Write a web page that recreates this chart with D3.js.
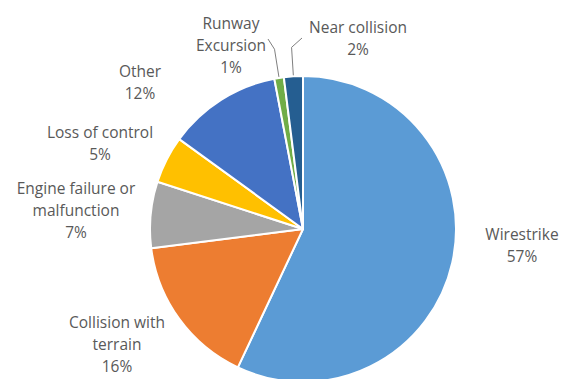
<!DOCTYPE html>
<html>
<head>
<meta charset="utf-8">
<script src="https://cdn.jsdelivr.net/npm/d3@7"></script>
<style>
  html, body { margin: 0; padding: 0; background: #fff; }
  svg { display: block; }
  text { font-family: "Open Sans", "Liberation Sans", sans-serif; font-size: 15.5px; fill: #595959; }
</style>
</head>
<body>
<svg id="chart" width="566" height="379"></svg>
<script>
// Data
const categories = ["Wirestrike", "Collision with terrain", "Engine failure or malfunction", "Loss of control", "Other", "Runway Excursion", "Near collision"];
const values = [57, 16, 7, 5, 12, 1, 2];
const colors = ["#5B9BD5", "#ED7D31", "#A5A5A5", "#FFC000", "#4472C4", "#70AD47", "#255E91"];
// Label text lines (as wrapped in the original)
const labelLines = [
  ["Wirestrike"],
  ["Collision with", "terrain"],
  ["Engine failure or", "malfunction"],
  ["Loss of control"],
  ["Other"],
  ["Runway", "Excursion"],
  ["Near collision"]
];
// Layout: label centre x and first baseline y
const labelPos = [[522, 240], [117, 328], [76, 194], [100, 138], [140, 77], [231, 29], [358, 33]];
const leaderEnd = [null, null, null, null, null, [268, 39], [302, 38]];

const W = 566, H = 379;
const cx = 303, cy = 229, R = 153;
const lineH = 22;

const svg = d3.select("#chart");
const data = categories.map((c, i) => ({ cat: c, value: values[i], color: colors[i], i }));

const pie = d3.pie().sort(null).value(d => d.value);
const arcs = pie(data);
const arc = d3.arc().innerRadius(0).outerRadius(R);

const g = svg.append("g").attr("transform", `translate(${cx},${cy})`);
g.selectAll("path.slice").data(arcs).join("path")
  .attr("class", "slice")
  .attr("d", arc)
  .attr("fill", d => d.data.color)
  .attr("stroke", "#fff")
  .attr("stroke-width", 2)
  .attr("stroke-linejoin", "round");

// Leader lines
arcs.forEach((a, i) => {
  if (!leaderEnd[i]) return;
  const mid = (a.startAngle + a.endAngle) / 2;
  const p0 = [cx + Math.sin(mid) * (R + 1), cy - Math.cos(mid) * (R + 1)];
  const p1 = [cx + Math.sin(mid) * (R + 29), cy - Math.cos(mid) * (R + 29)];
  const p2 = leaderEnd[i];
  svg.append("path")
    .attr("d", d3.line()([p0, p1, p2]))
    .attr("fill", "none")
    .attr("stroke", "#7f7f7f")
    .attr("stroke-width", 1);
});

// Labels
arcs.forEach((a, i) => {
  const [lx, ly] = labelPos[i];
  const lines = labelLines[i].concat([Math.round(values[i]) + "%"]);
  const t = svg.append("text").attr("text-anchor", "middle");
  lines.forEach((ln, k) => {
    t.append("tspan").attr("x", lx).attr("y", ly + k * lineH).text(ln);
  });
});
</script>
</body>
</html>
